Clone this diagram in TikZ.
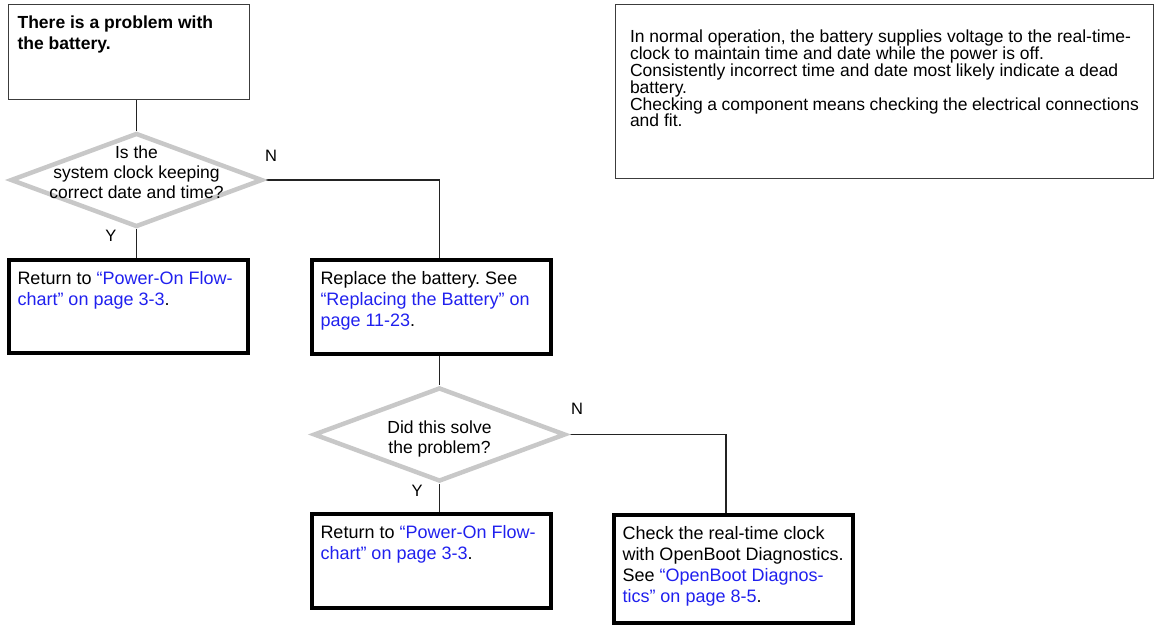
\documentclass[tikz,border=0pt]{standalone}
\usepackage{fontspec}
\setmainfont{Liberation Sans}
\usepackage{tikz}
\usetikzlibrary{shapes.geometric,backgrounds}
\frenchspacing
\definecolor{linkblue}{RGB}{32,32,238}
\definecolor{diagray}{RGB}{200,200,200}
\definecolor{framegray}{RGB}{60,60,60}
\definecolor{wiregray}{RGB}{35,35,35}
\newcommand{\Xref}[1]{\textcolor{linkblue}{#1}}
\newcommand{\cellbody}[3]{\parbox[c][#2][t]{#1}{\raggedright #3}}
\tikzset{
  flowtxt/.style={font=\fontsize{18}{21}\selectfont},
  startbox/.style={draw=framegray, line width=1.2pt, inner xsep=9pt, inner ysep=11pt,
                   font=\fontsize{17.5}{21}\selectfont\bfseries},
  actbox/.style={draw=black, line width=4pt, inner xsep=8.5pt, inner ysep=11pt, flowtxt},
  notebox/.style={draw=framegray, line width=1.2pt, inner xsep=14.4pt, inner ysep=25.7pt,
                  font=\fontsize{17.5}{16.8}\selectfont},
  decision/.style={diamond, draw=diagray, line width=4.5pt, minimum width=252pt,
                   minimum height=94pt, inner sep=0pt},
  asktxt/.style={align=center, inner sep=0pt, font=\fontsize{17.5}{20}\selectfont},
  yn/.style={inner sep=0pt, font=\fontsize{16.5}{18}\selectfont},
  wire/.style={wiregray, line width=1.1pt},
}

\begin{document}
\begin{tikzpicture}[x=1pt,y=-1pt]
  \useasboundingbox (0,0) rectangle (1157,626);
  % boxes and decisions
  \node[startbox] (start) at (129,52)
    {\cellbody{222.8pt}{72.8pt}{There is a problem with\\the battery.}};
  \node[decision] (dia1) at (136.5,180) {};
  \node[asktxt, yshift=8pt] (q1) at (dia1.center)
    {Is the\\system clock keeping\\correct date and time?};
  \node[actbox] (ret1) at (128.5,306.5)
    {\cellbody{222pt}{71pt}{Return to \Xref{“Power-On Flow-}\\\Xref{chart” on page 3-3}.}};
  \node[actbox] (repl) at (431.5,307)
    {\cellbody{222pt}{72pt}{Replace the battery. See\\\Xref{“Replacing the Battery” on}\\\Xref{page 11-23}.}};
  \node[decision] (dia2) at (439.5,434.5) {};
  \node[asktxt, yshift=-4pt] (q2) at (dia2.center)
    {Did this solve\\the problem?};
  \node[actbox] (ret2) at (431.5,561)
    {\cellbody{222pt}{72pt}{Return to \Xref{“Power-On Flow-}\\\Xref{chart” on page 3-3}.}};
  \node[actbox] (check) at (733.5,569)
    {\cellbody{222pt}{86pt}{Check the real-time clock\\with OpenBoot Diagnostics.\\See \Xref{“OpenBoot Diagnos-}\\\Xref{tics” on page 8-5}.}};
  \node[notebox] (note) at (884.5,91.5)
    {\cellbody{509pt}{122.4pt}{In normal operation, the battery supplies voltage to the real-time-\\
     clock to maintain time and date while the power is off.\\
     Consistently incorrect time and date most likely indicate a dead\\
     battery.\\
     Checking a component means checking the electrical connections\\
     and fit.}};
  % answers
  \node[yn] (n1) at (271,156) {N};
  \node[yn] (y1) at (111,236) {Y};
  \node[yn] (n2) at (577,409) {N};
  \node[yn] (y2) at (417,491) {Y};
  % connectors
  \begin{scope}[on background layer]
    \draw[wire] (dia1.north) -- (dia1.north |- start.south);
    \draw[wire] (dia1.south) -- (dia1.south |- ret1.north);
    \draw[wire] (dia1.east) -| (dia2.north |- repl.north);
    \draw[wire] (dia2.north |- repl.south) -- (dia2.north);
    \draw[wire] (dia2.south) -- (dia2.south |- ret2.north);
    \draw[wire] (dia2.east) -| ([xshift=-7.5pt]check.north);
  \end{scope}
\end{tikzpicture}
\end{document}
